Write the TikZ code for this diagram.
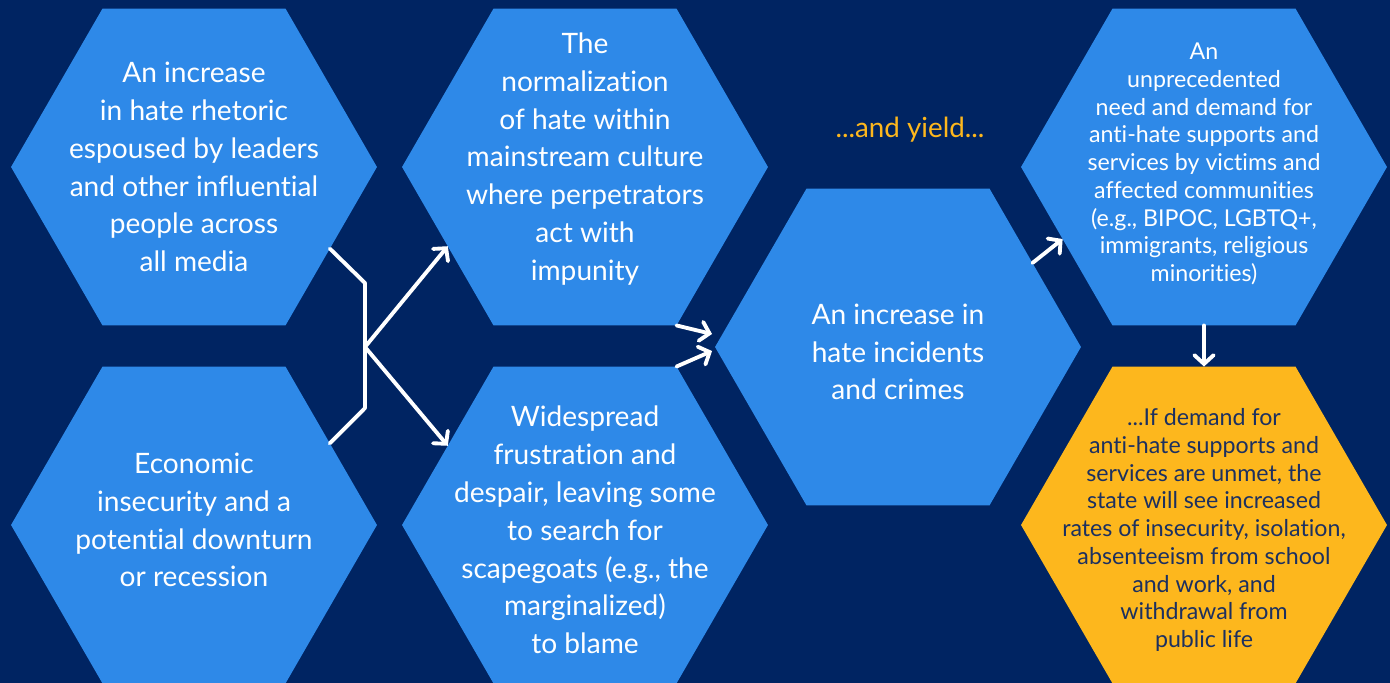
\documentclass[tikz,border=0pt]{standalone}
\usepackage{fontspec}
\setmainfont{Lato}[Ligatures=NoCommon]
\usetikzlibrary{positioning, calc, arrows.meta, shapes.geometric}
\definecolor{navy}{HTML}{002462}
\definecolor{hexblue}{HTML}{2E89E8}
\definecolor{gold}{HTML}{FDB71D}
\definecolor{ink}{HTML}{1C3060}
\tikzset{
  hexa/.style={regular polygon, regular polygon sides=6, minimum size=7.32cm, inner sep=0pt, outer sep=0pt, fill=hexblue},
  bigtext/.style={text=white, align=center, font=\fontsize{16}{21.5}\selectfont},
  smalltext/.style={text=white, align=center, font=\fontsize{13.2}{15.8}\selectfont},
  link/.style={white, line width=2.2pt, line cap=round, line join=round},
  arr/.style={link, -{Straight Barb[length=5pt,width=11pt,line cap=round]}}
}

\begin{document}
\begin{tikzpicture}[x=0.02cm, y=-0.02cm]
\useasboundingbox (0,0) rectangle (1390,683);
\fill[navy] (0,0) rectangle (1390,683);

\node[hexa] (h1) at (194,167) {};
\node[hexa] (h2) at (194,525) {};
\node[hexa] (h3) at (585,167) {};
\node[hexa] (h4) at (585,525) {};
\node[hexa] (h5) at (898,347) {};
\node[hexa] (h6) at (1204,167) {};
\node[hexa, fill=gold] (h7) at (1204,525) {};

\node[bigtext] (t1) at (h1) {An increase\\ in hate rhetoric\\ espoused by leaders\\ and other influential\\ people across\\ all media};
\node[bigtext] (t2) at ($(h2)+(0,-5)$) {Economic\\ insecurity and a\\ potential downturn\\ or recession};
\node[bigtext] (t3) at ($(h3)+(0,-8)$) {The\\ normalization\\ of hate within\\ mainstream culture\\ where perpetrators\\ act with\\ impunity};
\node[bigtext] (t4) at ($(h4)+(0,5)$) {Widespread\\ frustration and\\ despair, leaving some\\ to search for\\ scapegoats (e.g., the\\ marginalized)\\ to blame};
\node[bigtext] (t5) at ($(h5)+(0,5)$) {An increase in\\ hate incidents\\ and crimes};
\node[smalltext] (t6) at ($(h6)+(0,-3)$) {An\\ unprecedented\\ need and demand for\\ anti-hate supports and\\ services by victims and\\ affected communities\\ (e.g., BIPOC, LGBTQ+,\\ immigrants, religious\\ minorities)};
\node[smalltext, text=ink] (t7) at ($(h7)+(0,5)$) {...If demand for\\ anti-hate supports and\\ services are unmet, the\\ state will see increased\\ rates of insecurity, isolation,\\ absenteeism from school\\ and work, and\\ withdrawal from\\ public life};
\node[text=gold, font=\fontsize{15.8}{18}\selectfont] (yield) at (910,130) {...and yield...};

\coordinate (j) at (365,347);
\coordinate (ja) at (365,283);
\coordinate (jb) at (365,408);
\draw[link] (h1.-31) -- (ja) -- (jb) -- (h2.31);
\draw[arr] (j) -- (h3.210);
\draw[arr] (j) -- (h4.150);
\draw[arr] (h3.-60) -- ($(h5.west)+(-3,-13)$);
\draw[arr] (h4.60) -- ($(h5.west)+(-3,4)$);
\draw[arr] (h5.32) -- (h6.207);
\draw[arr] (h6.south) -- (h7.north);
\end{tikzpicture}
\end{document}
